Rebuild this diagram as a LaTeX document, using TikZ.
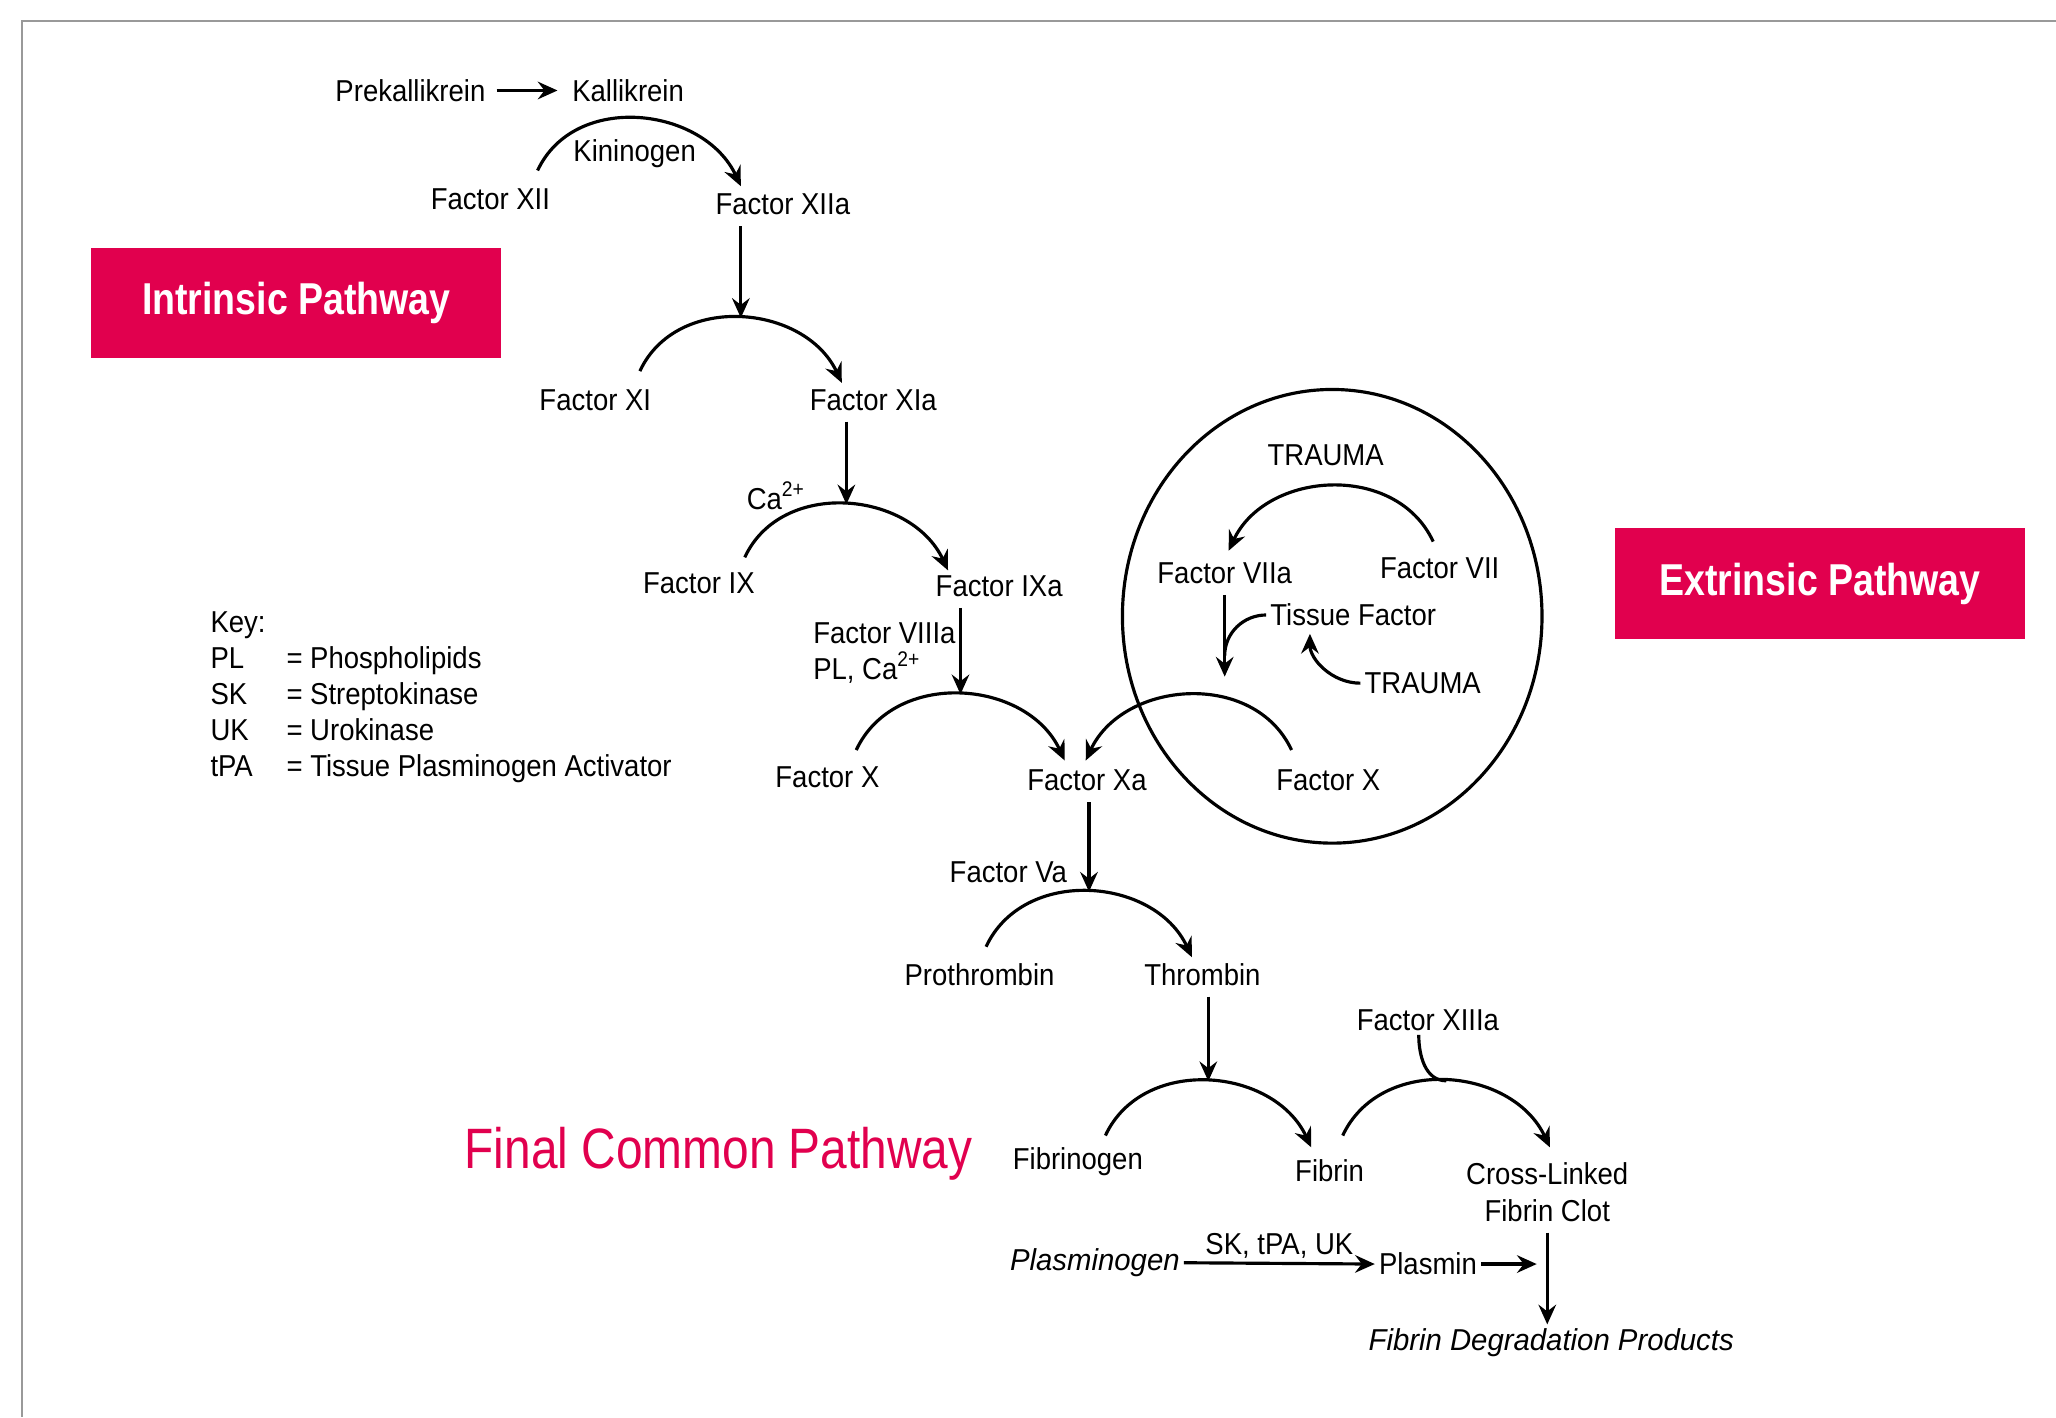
\documentclass[tikz,border=0pt]{standalone}
\usepackage{fontspec}
\setmainfont{Liberation Sans}[FakeStretch=0.91]
\newfontfamily\headfont{Liberation Sans}[FakeStretch=0.84]
\newfontfamily\slantfont{Liberation Sans}[FakeStretch=0.97]
\usetikzlibrary{arrows.meta}
\definecolor{pathred}{RGB}{225,0,78}
\newcommand\lblsize{\fontsize{8.6}{10.4}\selectfont}

\begin{document}
\begin{tikzpicture}[x=0.013112cm, y=0.013112cm,
  lbl/.style={inner sep=1pt, font=\lblsize},
  slant/.style={inner sep=1pt, font=\slantfont\itshape\lblsize},
  react/.style={line width=0.9pt, -{Stealth[length=5.6pt,width=5pt,inset=1.9pt]}},
  bareline/.style={line width=0.9pt},
  pathbox/.style={fill=pathred, text=white, inner sep=0pt, minimum width=4.1cm, minimum height=1.1cm,
    font=\headfont\bfseries\fontsize{12.7}{15}\selectfont}]
\useasboundingbox (0,0) rectangle (1568,-1081);
\draw[gray!80, line width=0.6pt] (1568,-16) -- (17,-16) -- (17,-1081);

% intrinsic pathway
\node[pathbox] (intr) at (226,-231) {Intrinsic Pathway};
\node[lbl] (prek) at (313,-69) {Prekallikrein};
\node[lbl] (kall) at (479,-69) {Kallikrein};
\node[lbl] (kinin) at (484,-117) {Kininogen};
\node[lbl] (fxii) at (374,-152) {Factor XII};
\node[lbl] (fxiia) at (597,-156) {Factor XIIa};
\node[lbl] (fxi) at (454,-305) {Factor XI};
\node[lbl] (fxia) at (666,-305) {Factor XIa};
\node[lbl] (ca) at (592,-378) {Ca\textsuperscript{2+}};
\node[lbl] (fix) at (533,-445) {Factor IX};
\node[lbl] (fixa) at (762,-447) {Factor IXa};
\node[lbl, align=left, anchor=west] (fviiia) at (617,-498) {Factor VIIIa\\PL, Ca\textsuperscript{2+}};
\node[lbl] (fx) at (631,-593) {Factor X};
\node[lbl] (fxa) at (829,-595) {Factor Xa};

\draw[react, shorten <=2pt, shorten >=3pt] (prek.east) -- (kall.west);
\draw[react] ([shift={(36,22)}]fxii.center) to[out=65,in=115,looseness=1.1] ([shift={(-32,14)}]fxiia.center);
\draw[react] ([shift={(34,22)}]fxi.center) to[out=65,in=115,looseness=1.1] coordinate[pos=0.5] (t2) ([shift={(-24,13)}]fxia.center);
\draw[react, shorten <=2pt] (fxiia.south -| t2) -- (t2);
\draw[react] ([shift={(35,20)}]fix.center) to[out=65,in=115,looseness=1.1] coordinate[pos=0.5] (t3) ([shift={(-39,12)}]fixa.center);
\draw[react, shorten <=2pt] (fxia.south -| t3) -- (t3);
\draw[react] ([shift={(22,21)}]fx.center) to[out=65,in=115,looseness=1.1] coordinate[pos=0.5] (t4) ([shift={(-17,15)}]fxa.center);
\draw[react, shorten <=2pt] (fixa.south -| t4) -- (t4);

% extrinsic pathway
\node[pathbox] (extr) at (1388,-445) {Extrinsic Pathway};
\node[lbl] (trauma) at (1011,-347) {TRAUMA};
\node[lbl] (fviia) at (934,-437) {Factor VIIa};
\node[lbl] (fvii) at (1098,-433) {Factor VII};
\node[lbl] (tf) at (1032,-469) {Tissue Factor};
\node[lbl] (traumb) at (1085,-521) {TRAUMA};
\node[lbl] (fxb) at (1013,-595) {Factor X};
\coordinate (vend) at (934,-516);
\coordinate (tfj) at (934,-500);

\draw[bareline] (1016,-470) ellipse[x radius=160, y radius=173];
\draw[react] ([shift={(-5,20)}]fvii.center) to[out=115,in=65,looseness=1.1] ([shift={(3,17)}]fviia.center);
\draw[react, shorten <=2pt] (fviia.south) -- (vend);
\draw[bareline] (tf.west) to[out=180,in=90] (tfj);
\draw[react, shorten >=1pt] (traumb.west) to[out=180,in=-90] ([shift={(-33,0)}]tf.south);
\draw[react] ([shift={(-28,23)}]fxb.center) to[out=115,in=65,looseness=1.1] ([shift={(-1,15)}]fxa.center);

% final common pathway
\node[font=\headfont\fontsize{16.2}{19}\selectfont, text=pathred] (fcp) at (548,-880) {Final Common Pathway};
\node[lbl] (fva) at (769,-665) {Factor Va};
\node[lbl] (proth) at (747,-743) {Prothrombin};
\node[lbl] (thromb) at (917,-743) {Thrombin};
\node[lbl] (fxiiia) at (1089,-778) {Factor XIIIa};
\node[lbl] (fibgen) at (822,-886) {Fibrinogen};
\node[lbl] (fibrin) at (1014,-893) {Fibrin};
\node[lbl, align=center] (clot) at (1180,-909) {Cross-Linked\\Fibrin Clot};
\node[slant] (plgen) at (835,-963) {Plasminogen};
\node[lbl] (plasmin) at (1089,-964) {Plasmin};
\node[slant] (fdp) at (1183,-1024) {Fibrin Degradation Products};

\draw[react] ([shift={(5,21)}]proth.center) to[out=65,in=115,looseness=1.1] coordinate[pos=0.5] (t6) ([shift={(-8,13)}]thromb.center);
\draw[react, shorten <=2pt] (fxa.south -| t6) -- (t6);
\draw[react] ([shift={(21,20)}]fibgen.center) to[out=65,in=115,looseness=1.1] coordinate[pos=0.5] (t7) ([shift={(-14,18)}]fibrin.center);
\draw[react, shorten <=2pt] (thromb.south -| t7) -- (t7);
\draw[react] ([shift={(10,27)}]fibrin.center) to[out=65,in=115,looseness=1.1] coordinate[pos=0.5] (t8) ([shift={(2,34)}]clot.center);
\draw[bareline] ([shift={(-7,0)}]fxiiia.south) to[out=-90,in=180] (t8);
\draw[react] (plgen.east) -- node[lbl, above] (sk) {SK, tPA, UK} (plasmin.west);
\draw[react, shorten <=2pt] (clot.south) -- (clot.south |- fdp.north);
\draw[react, shorten >=3pt] (plasmin.east) -- (plasmin.east -| clot.south);

% key
\node[inner sep=0pt, anchor=north west, font=\fontsize{8.6}{10.2}\selectfont] (key) at (160,-463)
  {\begin{tabular}{@{}p{0.76cm}@{}l@{}}
   \multicolumn{2}{@{}l@{}}{Key:}\\
   PL & = Phospholipids\\
   SK & = Streptokinase\\
   UK & = Urokinase\\
   tPA & = Tissue Plasminogen Activator
   \end{tabular}};
\end{tikzpicture}
\end{document}
